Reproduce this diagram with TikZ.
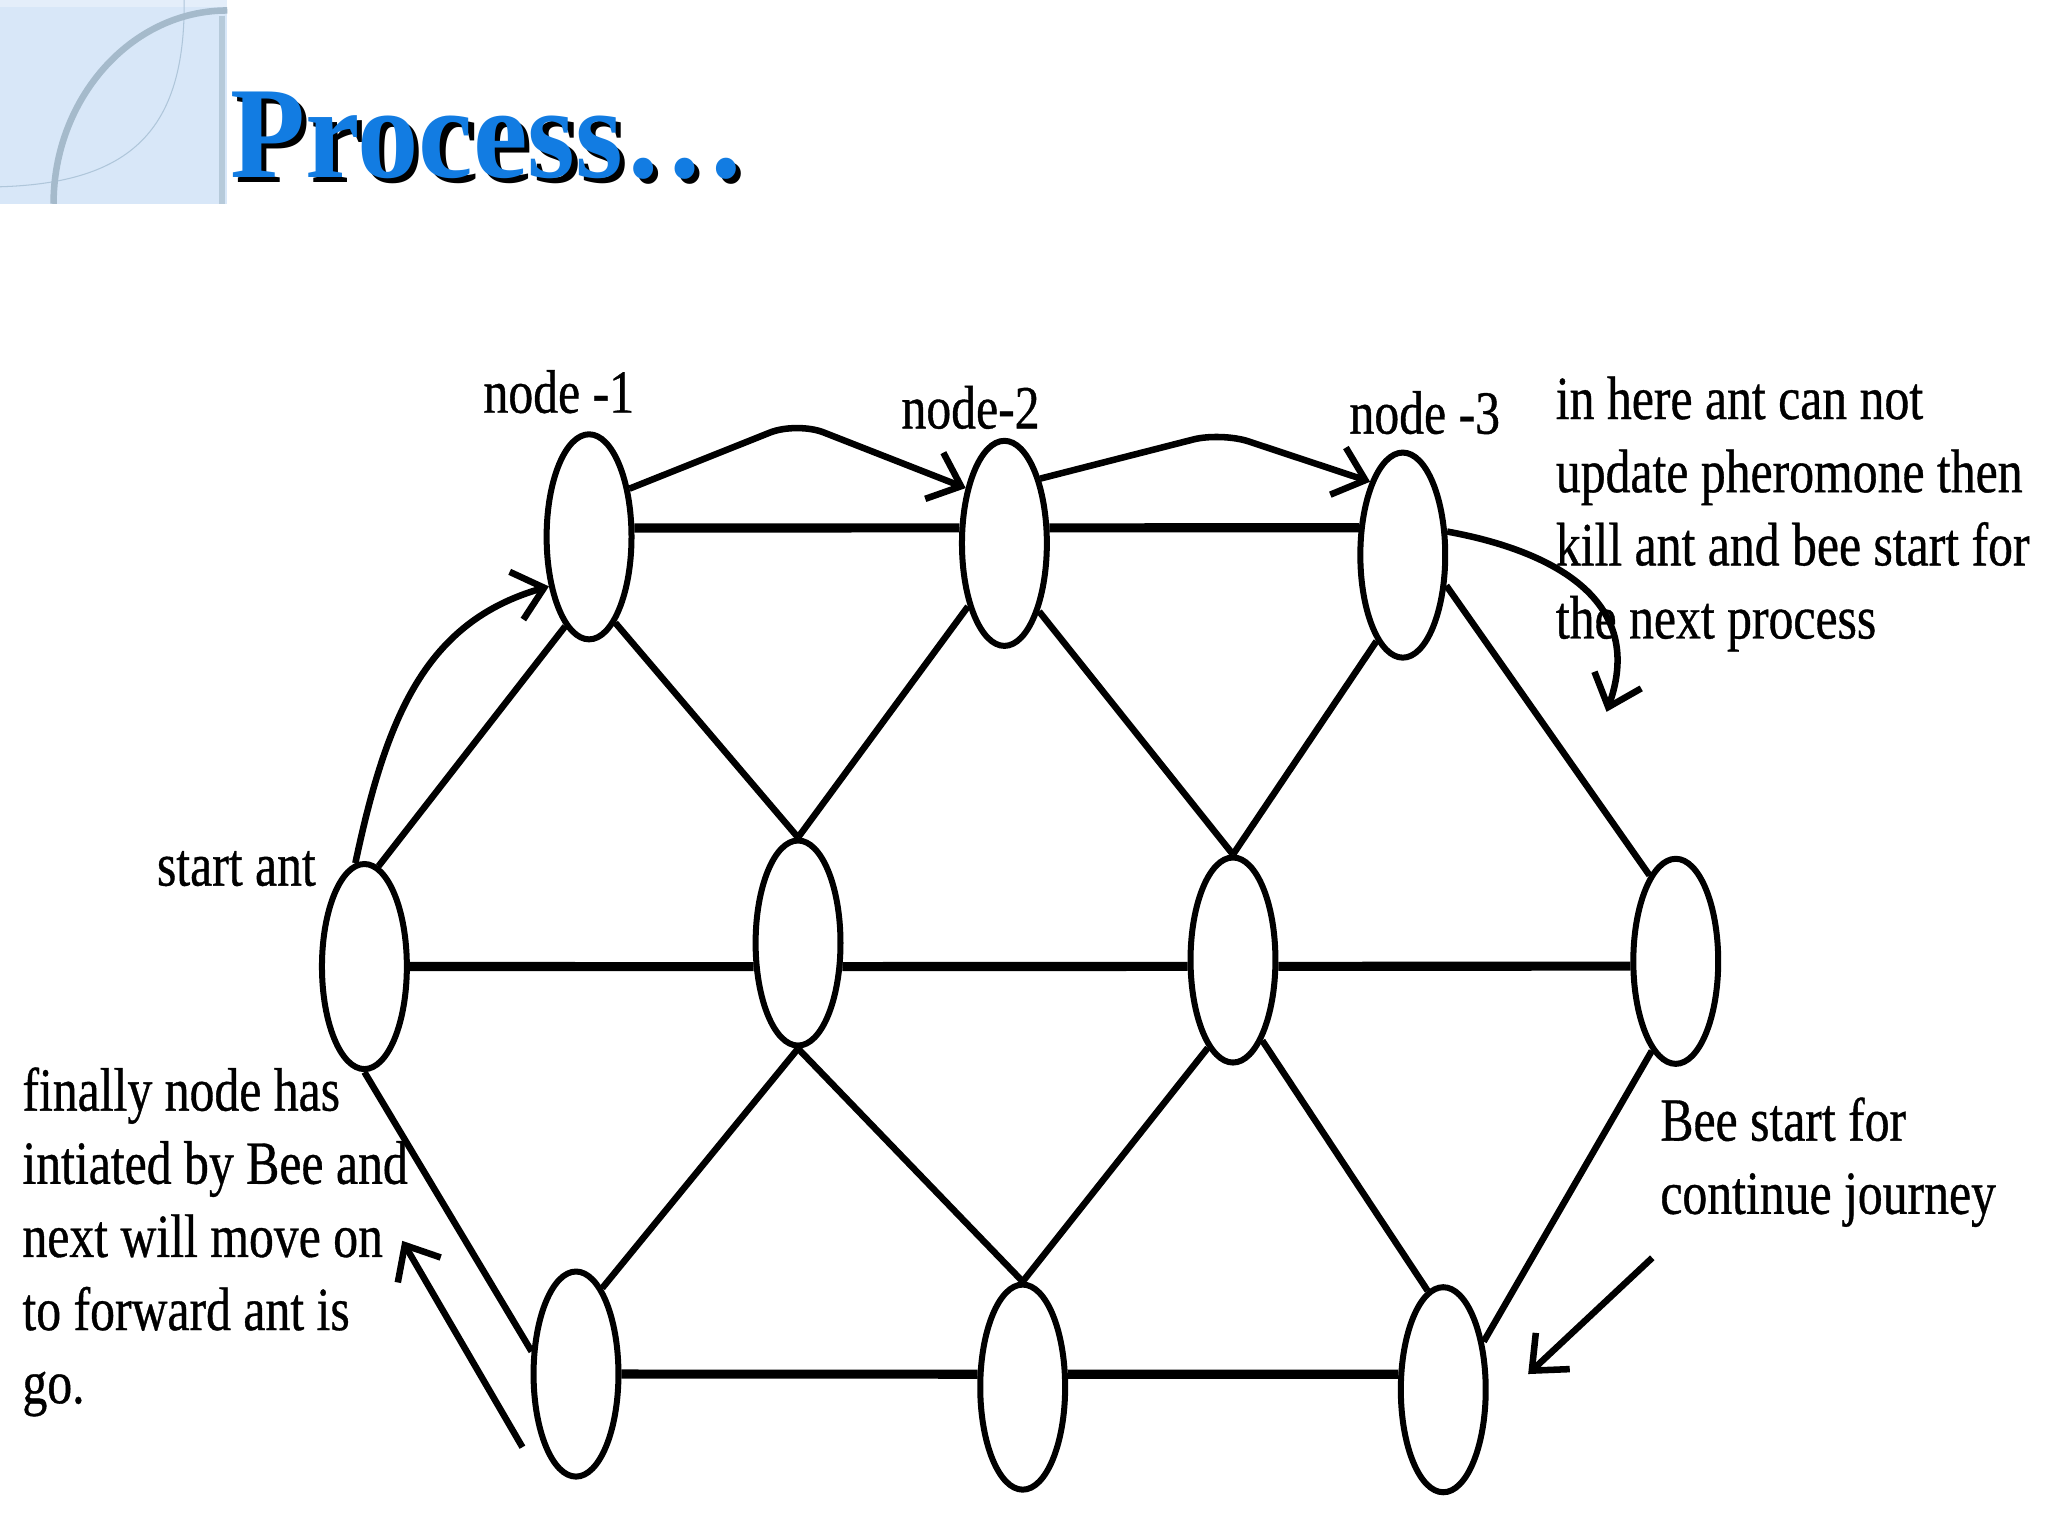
\documentclass[tikz,border=0pt]{standalone}
\usepackage{fontspec}
\setmainfont{Liberation Serif}
\newfontfamily\labfont[FakeStretch=0.81,FakeBold=0.6]{Liberation Serif}
\newfontfamily\titfont[FakeStretch=0.94]{Liberation Serif}
\usetikzlibrary{shapes.geometric,arrows.meta}
\definecolor{titleblue}{RGB}{18,124,226}
\definecolor{panelblue}{RGB}{216,231,248}
\definecolor{panellight}{RGB}{228,238,250}
\definecolor{arcgray}{RGB}{165,186,203}
\definecolor{barblue}{RGB}{182,202,218}
\definecolor{thinarc}{RGB}{175,198,218}
\begin{document}
\begin{tikzpicture}[x=1pt,y=-1pt,
  state/.style={ellipse,draw,line width=4.6pt,minimum width=65pt,minimum height=157pt,inner sep=0pt},
  hedge/.style={line width=7pt},
  dedge/.style={line width=5pt},
  move/.style={line width=5pt,-{Straight Barb[length=22pt,width=38pt]}},
  lab/.style={font=\labfont\fontsize{47}{56}\selectfont,inner sep=0pt,align=left},
  ttl/.style={font=\titfont\bfseries\fontsize{100}{110}\selectfont,inner sep=0pt,anchor=base west}]
\useasboundingbox (0,0) rectangle (1568,1176);
\fill[white] (0,0) rectangle (1568,1176);
% corner panel
\fill[panelblue] (0,0) rectangle (174,156);
\fill[panellight] (0,0) rectangle (174,5);
\draw[thinarc, line width=0.8pt] (141,0) .. controls (142,100) and (100,140) .. (0,143);
\draw[barblue, line width=5pt] (170,12) -- (170,156);
\draw[arcgray, line width=5pt] (41,156) .. controls (41,76) and (100,8) .. (174,8);
% title (with drop shadow)
\node[ttl, text=titleblue] (title) at (176,136)
  {\makebox[0pt][l]{\hspace*{4pt}\raisebox{-4pt}{\color{black}Process…}}Process…};
% nodes
\node[state] (n1) at (451,411) {};
\node[state] (n2) at (769,416) {};
\node[state] (n3) at (1074,425) {};
\node[state] (s)  at (279,740) {};
\node[state] (m1) at (611,722) {};
\node[state] (m2) at (944,735) {};
\node[state] (r)  at (1283,736) {};
\node[state] (b1) at (441,1052) {};
\node[state] (b2) at (783,1062) {};
\node[state] (b3) at (1105,1064) {};
% horizontal edges
\draw[hedge] (n1.11) -- (n2.161);
\draw[hedge] (n2.19) -- (n3.148);
\draw[hedge] (s.east) -- (m1.208);
\draw[hedge] (m1.332) -- (m2.188);
\draw[hedge] (m2.352) -- (r.186);
\draw[hedge] (b1.east) -- (b2.164);
\draw[hedge] (b2.16) -- (b3.161);
% diagonal edges
\draw[dedge] (s.82) -- (n1.255);
\draw[dedge] (n1.287) -- (m1.north);
\draw[dedge] (m1.north) -- (n2.240);
\draw[dedge] (n2.297) -- (m2.north);
\draw[dedge] (m2.north) -- (n3.253);
\draw[dedge] (n3.325) -- (r.107);
\draw[dedge] (s.south) -- (b1.153);
\draw[dedge] (m1.south) -- (b1.73);
\draw[dedge] (m1.south) -- (b2.north);
\draw[dedge] (m2.254) -- (b2.north);
\draw[dedge] (m2.290) -- (b3.99);
\draw[dedge] (r.255) -- (b3.50);
% ant / bee moves
\draw[move] (s.95) .. controls (296,548) and (326,476) .. (n1.231);
\draw[move, rounded corners=22pt] (n1.50) -- (610,323) -- (n2.125);
\draw[move, rounded corners=22pt] (n2.61) -- (935,331) -- (n3.114);
\coordinate (k1) at (1230,545);
\draw[move] (n3.28) .. controls (1180,420) and (1262,455) .. (k1);
\coordinate (a1s) at (400,1108);
\coordinate (a1e) at (308,950);
\draw[move] (a1s) -- (a1e);
\coordinate (a2s) at (1265,963);
\coordinate (a2e) at (1170,1052);
\draw[move] (a2s) -- (a2e);
% labels
\node[lab, anchor=base west] (l1) at (370,316) {node -1};
\node[lab, anchor=base west] (l2) at (690,328) {node-2};
\node[lab, anchor=base west] (l3) at (1033,332) {node -3};
\node[lab, anchor=base west] (lstart) at (120,678) {start ant};
\node[lab, anchor=north west] (lkill) at (1191,288) {in here ant can not\\update pheromone then\\kill ant and bee start for\\the next process};
\node[lab, anchor=north west] (lfin) at (17,817) {finally node has\\intiated by Bee and\\next will move on\\to forward ant is\\go.};
\node[lab, anchor=north west] (lbee) at (1271,840) {Bee start for\\continue journey};
\end{tikzpicture}
\end{document}
